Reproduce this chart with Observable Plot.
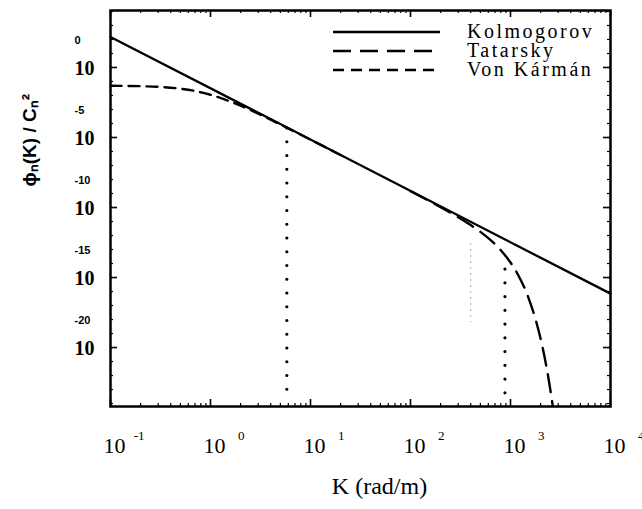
<!DOCTYPE html>
<html><head><meta charset="utf-8">
<script src="https://cdn.jsdelivr.net/npm/d3@7"></script>
<script src="https://cdn.jsdelivr.net/npm/@observablehq/plot@0.6"></script>
<style>body{margin:0;background:#fff} svg{display:block;background:#fff}</style>
</head><body><div id="chart"></div>
<script>
// ---- data ----
const seriesNames = ["Kolmogorov", "Tatarsky", "Von Kármán"];
const kolmogorovK = [0.1, 10000];
const kolmogorovPhi = [1.53e2, 7.1e-17];
const vonKarmanK = [0.1, 0.2, 0.3, 0.5, 0.7, 1, 1.5, 2, 3, 5, 10, 20];
const vonKarmanPhi = [4.94e-2, 4.62e-2, 4.15e-2, 3.06e-2, 2.09e-2, 1.13e-2, 4.29e-3, 1.87e-3, 5.03e-4, 8.52e-5, 7.01e-6, 5.58e-7];
const tatarskyK = [100, 200, 300, 400, 500, 600, 800, 1000, 1200, 1500, 1800, 2100, 2400, 2700];
const tatarskyPhi = [1.48e-9, 1.06e-10, 2.02e-11, 5.57e-12, 1.82e-12, 6.48e-13, 8.87e-14, 1.18e-14, 1.40e-15, 4.16e-17, 7.88e-19, 9.11e-21, 6.22e-23, 2.48e-25];
const markerK = [5.8, 880];
const markerTop = [4.4e-5, 3.7e-15];
const markerBottom = [5e-24, 5e-24];
const faintK = [400];
const faintTop = [2.7e-13];
const faintBottom = [6e-19];
const xTickValues = [0.1, 1, 10, 100, 1000, 10000];
const xTickExponents = ["-1", "0", "1", "2", "3", "4"];
const yTickValues = [1, 1e-5, 1e-10, 1e-15, 1e-20];
const yTickExponents = ["0", "-5", "-10", "-15", "-20"];
const xTitle = "K (rad/m)";
const yTitle = "ϕₙ(K) / Cₙ²";

// ---- tables ----
const kolmogorov = kolmogorovK.map((k, i) => ({k, phi: kolmogorovPhi[i]}));
const vonKarman = vonKarmanK.map((k, i) => ({k, phi: vonKarmanPhi[i]}));
const tatarsky = tatarskyK.map((k, i) => ({k, phi: tatarskyPhi[i]}));
const markers = markerK.map((k, i) => ({k, top: markerTop[i], bottom: markerBottom[i]}));
const faint = faintK.map((k, i) => ({k, top: faintTop[i], bottom: faintBottom[i]}));
const xMinor = [];
for (let e = -1; e < 4; e++) for (let m = 2; m <= 9; m++) xMinor.push(m * 10 ** e);
const yMinor = [];
for (let e = -24; e <= 4; e++) yMinor.push(10 ** e);
const yMajor = yMinor.filter(v => Math.round(Math.log10(v)) % 5 === 0);

const serif = "Liberation Serif";
const sans = "Liberation Sans";

const W = 642, H = 509, mL = 110, mR = 32, mT = 10, mB = 103;
const fw = W - mL - mR, fh = H - mT - mB;

const chart = Plot.plot({
  width: W, height: H,
  marginLeft: mL, marginRight: mR, marginTop: mT, marginBottom: mB,
  style: {background: "#fff", color: "#000"},
  x: {type: "log", domain: [0.1, 10000], axis: null},
  y: {type: "log", domain: [10 ** -24.21, 10 ** 4.07], axis: null},
  marks: [
    // inward ticks on all four sides
    Plot.tickX(xMinor, {x: d => d, insetTop: fh - 3, stroke: "#000", strokeWidth: 1.2}),
    Plot.tickX(xTickValues, {x: d => d, insetTop: fh - 7, stroke: "#000", strokeWidth: 1.6}),
    Plot.tickX(xMinor, {x: d => d, insetBottom: fh - 3, stroke: "#000", strokeWidth: 1.2}),
    Plot.tickX(xTickValues, {x: d => d, insetBottom: fh - 7, stroke: "#000", strokeWidth: 1.6}),
    Plot.tickY(yMinor, {y: d => d, insetRight: fw - 3, stroke: "#000", strokeWidth: 1.2}),
    Plot.tickY(yMajor, {y: d => d, insetRight: fw - 7, stroke: "#000", strokeWidth: 1.6}),
    Plot.tickY(yMinor, {y: d => d, insetLeft: fw - 3, stroke: "#000", strokeWidth: 1.2}),
    Plot.tickY(yMajor, {y: d => d, insetLeft: fw - 7, stroke: "#000", strokeWidth: 1.6}),
    Plot.ruleX(faint, {x: "k", y1: "top", y2: "bottom", stroke: "#aaa", strokeWidth: 1, strokeDasharray: "2,4"}),
    Plot.ruleX(markers, {x: "k", y1: "top", y2: "bottom", stroke: "#000", strokeWidth: 3.2, strokeLinecap: "round", strokeDasharray: "0,13.75"}),
    Plot.line(vonKarman, {x: "k", y: "phi", stroke: "#000", strokeWidth: 2.4, strokeDasharray: "11,7", curve: "monotone-x"}),
    Plot.line(tatarsky, {x: "k", y: "phi", stroke: "#000", strokeWidth: 2.4, strokeDasharray: "18,9", curve: "monotone-x", clip: true}),
    Plot.line(kolmogorov, {x: "k", y: "phi", stroke: "#000", strokeWidth: 2.3}),
    Plot.frame({stroke: "#000", strokeWidth: 2.5}),
    Plot.text(xTickValues, {x: d => d, frameAnchor: "bottom", text: () => "10", dx: 4, dy: 46, fontSize: 22, fontFamily: serif}),
    Plot.text(xTickValues, {x: d => d, frameAnchor: "bottom", text: (d, i) => xTickExponents[i], dx: 34, dy: 33, textAnchor: "end", fontSize: 13, fontFamily: serif}),
    Plot.text(yTickValues, {y: d => d, frameAnchor: "left", text: () => "10", dx: -36, dy: 1, fontSize: 20, fontWeight: "bold", fontFamily: serif}),
    Plot.text(yTickValues, {y: d => d, frameAnchor: "left", text: (d, i) => yTickExponents[i], dx: -36, dy: -27, textAnchor: "start", fontSize: 11, fontWeight: "bold", fontFamily: sans}),
    Plot.text([xTitle], {frameAnchor: "bottom", text: d => d, dx: 19, dy: 87, fontSize: 24, fontFamily: serif}),
    Plot.text([yTitle], {frameAnchor: "left", text: d => d, rotate: -90, dx: -81, dy: -22, fontSize: 19, fontWeight: "bold", fontFamily: sans})
  ]
});
document.getElementById("chart").appendChild(chart);

// ---- legend (inside the frame, top right) ----
const legendDash = [null, "18,9", "11,7"];
const svg = d3.select(chart);
const leg = svg.append("g").attr("class", "legend").attr("font-family", serif);
seriesNames.forEach((name, i) => {
  const yy = 32 + i * 19;
  leg.append("line").attr("x1", 333).attr("x2", 440).attr("y1", yy).attr("y2", yy)
    .attr("stroke", "#000").attr("stroke-width", 2.4)
    .attr("stroke-dasharray", legendDash[i]);
  leg.append("text").attr("x", 467).attr("y", yy + 6).text(name)
    .attr("text-anchor", "start")
    .attr("font-size", 20).attr("letter-spacing", 2.5).attr("fill", "#000");
});
</script></body></html>
